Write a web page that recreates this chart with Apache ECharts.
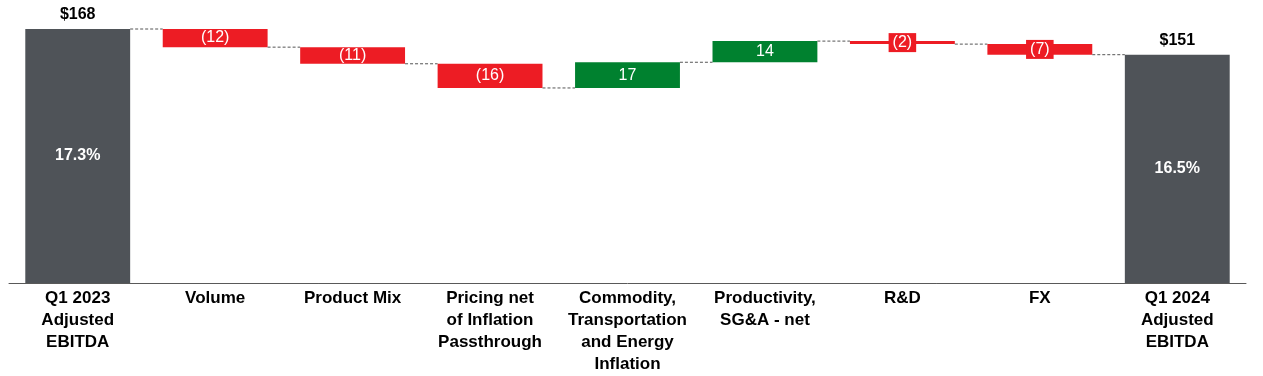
<!DOCTYPE html>
<html>
<head>
<meta charset="utf-8">
<script src="https://cdn.jsdelivr.net/npm/echarts@6/dist/echarts.min.js"></script>
<style>
  html, body { margin: 0; padding: 0; background: #fff; }
  #chart { width: 1263px; height: 376px; }
</style>
</head>
<body>
<div id="chart"></div>
<script>
// 瀑布图数据
var categories = [
  "Q1 2023\nAdjusted\nEBITDA",
  "Volume",
  "Product Mix",
  "Pricing net\nof Inflation\nPassthrough",
  "Commodity,\nTransportation\nand Energy\nInflation",
  "Productivity,\nSG&A - net",
  "R&D",
  "FX",
  "Q1 2024\nAdjusted\nEBITDA"
];
// total = 汇总柱, 其余为增减
var values = [168, -12, -11, -16, 17, 14, -2, -7, 151];
var kinds = ["total", "delta", "delta", "delta", "delta", "delta", "delta", "delta", "total"];
var marginLabels = ["17.3%", "", "", "", "", "", "", "", "16.5%"];

var FONT = "Arial, 'Liberation Sans', sans-serif";
var GRAY = "#4f5358";
var RED = "#ed1c24";
var GREEN = "#00812f";

// 计算每根柱子的起止
var rows = [];
var level = 0;
for (var i = 0; i < values.length; i++) {
  var from, to;
  if (kinds[i] === "total") {
    from = 0;
    to = values[i];
  } else {
    from = level;
    to = level + values[i];
  }
  level = to;
  rows.push([i, from, to, values[i]]);
}

function fmt(v, kind) {
  if (kind === "total") return "$" + v;
  return v < 0 ? "(" + Math.abs(v) + ")" : String(v);
}

var chart = echarts.init(document.getElementById("chart"));
chart.setOption({
  animation: false,
  backgroundColor: "#fff",
  grid: { left: 9, right: 17, top: 29, bottom: 93 },
  xAxis: {
    type: "category",
    data: categories,
    axisTick: { show: false },
    axisLine: { lineStyle: { color: "#595959", width: 1 } },
    axisLabel: {
      interval: 0,
      margin: 4,
      color: "#000",
      fontFamily: FONT,
      fontWeight: "bold",
      fontSize: 17,
      lineHeight: 22,
      align: "center"
    }
  },
  yAxis: {
    type: "value",
    min: 0,
    max: 168,
    show: false,
    splitLine: { show: false }
  },
  series: [
    {
      type: "custom",
      data: rows,
      encode: { x: 0, y: [1, 2] },
      renderItem: function (params, api) {
        var idx = api.value(0);
        var from = api.value(1);
        var to = api.value(2);
        var v = api.value(3);
        var kind = kinds[idx];
        var band = api.size([1, 0])[0];
        var w = band * 0.763;
        var p1 = api.coord([idx, from]);
        var p2 = api.coord([idx, to]);
        var x = p1[0] - w / 2;
        var yTop = Math.min(p1[1], p2[1]);
        var h = Math.abs(p1[1] - p2[1]);
        var color = kind === "total" ? GRAY : (v < 0 ? RED : GREEN);
        var children = [];

        var small = h < 14;
        children.push({
          type: "rect",
          shape: { x: x, y: yTop, width: w, height: h },
          style: { fill: color },
          textContent: kind === "total" ? {
            style: {
              text: marginLabels[idx],
              fill: "#fff",
              font: "bold 16px " + FONT
            }
          } : {
            style: {
              text: fmt(v, kind),
              fill: "#fff",
              font: "16px " + FONT,
              backgroundColor: small ? RED : null,
              padding: small ? [2, 4, 1, 4] : 0
            }
          },
          textConfig: { position: "inside" }
        });

        if (kind === "total") {
          children.push({
            type: "text",
            style: {
              text: fmt(v, kind),
              x: p2[0],
              y: yTop - 6,
              align: "center",
              verticalAlign: "bottom",
              fill: "#000",
              font: "bold 16px " + FONT
            }
          });
        }

        // 连接虚线
        if (idx < rows.length - 1) {
          var n = api.coord([idx + 1, to]);
          children.push({
            type: "line",
            shape: { x1: x + w, y1: p2[1], x2: n[0] - w / 2, y2: p2[1] },
            style: { stroke: "#555", lineWidth: 1, lineDash: [3, 2] }
          });
        }
        return { type: "group", children: children };
      }
    }
  ]
});
</script>
</body>
</html>
